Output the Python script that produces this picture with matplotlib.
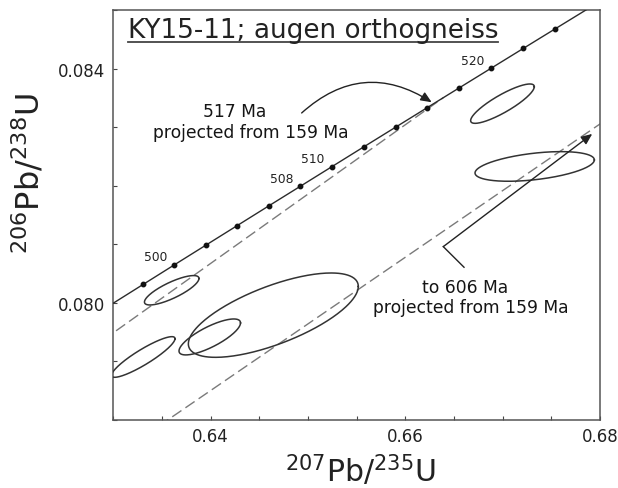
import numpy as np
import matplotlib
matplotlib.use("Agg")
import matplotlib.pyplot as plt
from matplotlib.lines import Line2D

# U decay constants (1/yr)
LAMBDA_238 = 1.55125e-10
LAMBDA_235 = 9.8485e-10


def concordia(age_ma):
    """207Pb/235U and 206Pb/238U ratios for an age in Ma."""
    t = np.asarray(age_ma, dtype=float) * 1e6
    return np.exp(LAMBDA_235 * t) - 1.0, np.exp(LAMBDA_238 * t) - 1.0


# zircon analyses: 207Pb/235U, 2s, 206Pb/238U, 2s, error correlation
pb207_u235 = [0.63600, 0.64644, 0.63991, 0.63308, 0.66998, 0.67329]
pb207_u235_err = [0.00280, 0.00873, 0.00316, 0.00326, 0.00327, 0.00613]
pb206_u238 = [0.080215, 0.079790, 0.079418, 0.079076, 0.083401, 0.082329]
pb206_u238_err = [0.000251, 0.000720, 0.000307, 0.000347, 0.000336, 0.000253]
err_corr = [0.80, 0.68, 0.78, 0.90, 0.86, 0.44]

# concordia age marks (Ma)
tick_ages = list(range(498, 526, 2))
labelled_ages = [500, 508, 510, 520]

# discordia: lower intercept and the projected upper intercepts (Ma)
lower_intercept = 159
upper_intercepts = [517, 606]

x_ticks = [0.630, 0.635, 0.640, 0.645, 0.650, 0.655, 0.660, 0.665, 0.670, 0.675, 0.680]
x_tick_labels = ["", "", "0.64", "", "", "", "0.66", "", "", "", "0.68"]
y_ticks = [0.078, 0.079, 0.080, 0.081, 0.082, 0.083, 0.084, 0.085]
y_tick_labels = ["", "", "0.080", "", "", "", "0.084", ""]

plt.rcParams["font.family"] = ["DejaVu Sans"]
plt.rcParams["mathtext.fontset"] = "dejavusans"

fig = plt.figure(figsize=(6.18, 4.89), dpi=100)
ax = fig.add_axes([113.3 / 618, 68 / 489, 486.7 / 618, 410 / 489])
ax.set_xlim(0.63, 0.68)
ax.set_ylim(0.078, 0.085)

line_col = "#2b2b2b"
dash_col = "#7a7a7a"
text_col = "#151515"

# concordia curve with age marks
curve_x, curve_y = concordia(np.linspace(480, 540, 400))
ax.plot(curve_x, curve_y, color=line_col, lw=1.0, zorder=3)
mx, my = concordia(tick_ages)
ax.plot(mx, my, "o", color="#111111", ms=3.2, zorder=4)
for age in labelled_ages:
    cx, cy = concordia(age)
    ax.annotate(str(age), (cx, cy), xytext=(-19, 8), textcoords="offset pixels",
                ha="center", va="center", fontsize=8.8, color="#222222")

# discordia lines from the lower intercept
lx, ly = concordia(lower_intercept)
for age in upper_intercepts:
    ux, uy = concordia(age)
    ax.plot([lx, ux], [ly, uy], color=dash_col, lw=1.0, dashes=(8, 3.5), zorder=2)

# error ellipses
theta = np.linspace(0, 2 * np.pi, 300)
for x0, sx, y0, sy, r in zip(pb207_u235, pb207_u235_err, pb206_u238, pb206_u238_err, err_corr):
    ex = x0 + sx * np.cos(theta)
    ey = y0 + sy * (r * np.cos(theta) + np.sqrt(1 - r * r) * np.sin(theta))
    ax.plot(ex, ey, color="#333333", lw=1.1, zorder=3)

# annotation: 517 Ma
ax.text(0.64247, 0.083187, "517 Ma", ha="center", va="baseline",
        fontsize=12.3, color=text_col)
ax.text(0.63405, 0.082830, "projected from 159 Ma", ha="left", va="baseline",
        fontsize=12.3, color=text_col)
ax.annotate("", xy=(0.66271, 0.083425), xytext=(0.64935, 0.083242),
            arrowprops=dict(arrowstyle="-|>,head_length=0.65,head_width=0.28",
                            connectionstyle="arc3,rad=-0.38", color="#222222",
                            lw=1.0, shrinkA=0, shrinkB=0))

# annotation: 606 Ma
ax.text(0.66618, 0.080181, "to 606 Ma", ha="center", va="baseline",
        fontsize=12.3, color=text_col)
ax.text(0.66670, 0.079845, "projected from 159 Ma", ha="center", va="baseline",
        fontsize=12.3, color=text_col)
ax.plot([0.66603, 0.66390], [0.080608, 0.080960], color="#222222", lw=1.0, zorder=3)
ax.annotate("", xy=(0.67920, 0.082884), xytext=(0.66390, 0.080960),
            arrowprops=dict(arrowstyle="-|>,head_length=0.65,head_width=0.28",
                            color="#222222", lw=1.0, shrinkA=0, shrinkB=0))

# title with underline
title = ax.text(0.030, 0.934, "KY15-11; augen orthogneiss", transform=ax.transAxes,
                ha="left", va="baseline", fontsize=18.9, color="#222222")
fig.canvas.draw()
bb = title.get_window_extent()
inv = ax.transAxes.inverted()
(u0, _), (u1, _) = inv.transform([(bb.x0, 0), (bb.x1, 0)])
ax.add_line(Line2D([u0, u1], [0.922, 0.922], transform=ax.transAxes,
                   color="#444444", lw=1.3))

# axes styling
ax.set_xticks(x_ticks)
ax.set_xticklabels(x_tick_labels)
ax.set_yticks(y_ticks)
ax.set_yticklabels(y_tick_labels)
ax.tick_params(direction="in", length=3, width=0.8, color="#444444",
               labelsize=12, pad=5, labelcolor="#222222")
ax.tick_params(axis="y", pad=6)
for s in ax.spines.values():
    s.set_color("#555555")
    s.set_linewidth(1.1)

ax.set_xlabel(r"$^{207}$Pb/$^{235}$U", fontsize=21.5, color="#222222")
ax.xaxis.set_label_coords(0.507, -0.078)
ax.set_ylabel(r"$^{206}$Pb/$^{238}$U", fontsize=23, color="#222222")
ax.yaxis.set_label_coords(-0.1363, 0.604)

fig.savefig("out.png", dpi=100)
